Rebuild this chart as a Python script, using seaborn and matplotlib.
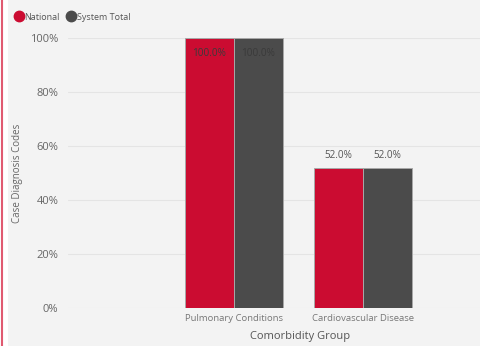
import matplotlib
matplotlib.use("Agg")
import matplotlib.pyplot as plt
from matplotlib.patches import Rectangle
from matplotlib.lines import Line2D
from matplotlib.ticker import FuncFormatter
import seaborn as sns
import pandas as pd

categories = ["Pulmonary Conditions", "Cardiovascular Disease"]
national = [1.00, 0.52]
system_total = [1.00, 0.52]
series_names = ["National", "System Total"]
y_ticks = [0.0, 0.2, 0.4, 0.6, 0.8, 1.0]

df = pd.DataFrame({
    "Comorbidity Group": categories * 2,
    "Share": national + system_total,
    "Series": [series_names[0]] * len(categories) + [series_names[1]] * len(categories),
})

RED = "#cb0c31"
DARK = "#4b4b4b"
BG = "#f3f3f3"
TEXT = "#666666"

sns.set_theme(style="white")
plt.rcParams["font.family"] = ["Open Sans", "DejaVu Sans"]

W, H = 481, 346
fig = plt.figure(figsize=(W / 100, H / 100), dpi=100)
fig.patch.set_facecolor(BG)
# white margin strip with an accent line on the left edge
fig.patches.append(Rectangle((0, 0), 8 / W, 1, transform=fig.transFigure,
                             facecolor="white", edgecolor="none", zorder=0))
fig.add_artist(Line2D([1.5 / W, 1.5 / W], [0, 1], transform=fig.transFigure,
                      color="#e05a70", lw=1.5))

ax = fig.add_axes([68 / W, (H - 308) / H, (W - 68) / W, 270 / H])
ax.set_facecolor(BG)

sns.barplot(data=df, x="Comorbidity Group", y="Share", hue="Series",
            palette=[RED, DARK], saturation=1, width=0.76, gap=0, ax=ax,
            edgecolor="#a8a8a8", linewidth=0.7, legend=False, zorder=3)

ax.set_xlim(-1.287, 1.915)
ax.set_ylim(0, 1.0)
ax.set_yticks(y_ticks)
ax.yaxis.set_major_formatter(FuncFormatter(lambda v, _: f"{v * 100:.0f}%"))
ax.grid(axis="y", color="#e4e4e4", lw=0.8, zorder=0)
ax.grid(axis="x", visible=False)
for s in ax.spines.values():
    s.set_visible(False)
ax.tick_params(axis="y", length=0, pad=7, labelsize=8, labelcolor=TEXT)
ax.tick_params(axis="x", length=0, pad=4, labelsize=6.8, labelcolor="#777777")

# value labels
for cont in ax.containers:
    for bar in cont:
        h = bar.get_height()
        cx = bar.get_x() + bar.get_width() / 2
        if h >= 0.95:
            ax.annotate(f"{h * 100:.1f}%", (cx, h), xytext=(0, -11),
                        textcoords="offset points", ha="center", va="center",
                        fontsize=7.2, color="#3a3a3a", zorder=5)
        else:
            ax.annotate(f"{h * 100:.1f}%", (cx, h), xytext=(0, 9),
                        textcoords="offset points", ha="center", va="center",
                        fontsize=7.2, color="#555555", zorder=5)

ax.set_xlabel("")
ax.set_ylabel("")
fig.text(300 / W, 1 - 337 / H, "Comorbidity Group", ha="center", va="center",
         fontsize=8, color="#555555")
fig.text(18 / W, 1 - 173 / H, "Case Diagnosis Codes", ha="center", va="center",
         rotation=90, fontsize=7, color=TEXT)

# legend row
handles = [Line2D([], [], marker="o", ls="none", markersize=7.5, color=c) for c in (RED, DARK)]
fig.legend(handles, series_names, loc="upper left", bbox_to_anchor=(9 / W, 1 - 8 / H),
           frameon=False, fontsize=6.5, labelcolor="#555555", ncol=2,
           handletextpad=0.0, columnspacing=0.7, borderpad=0, handlelength=1.2)

fig.savefig("out.png", dpi=100, facecolor=BG)
